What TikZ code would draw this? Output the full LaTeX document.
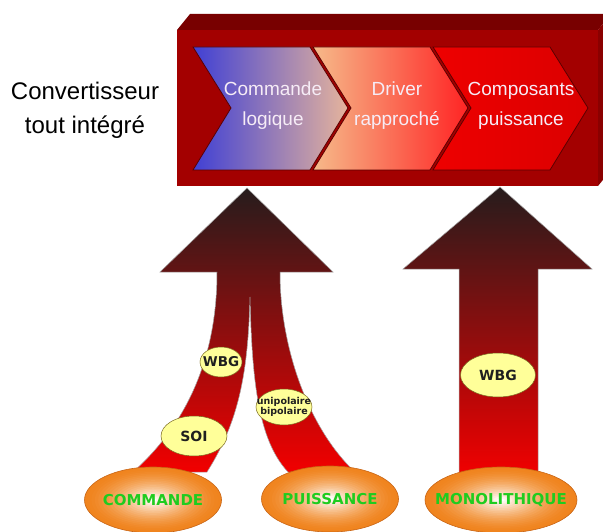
\documentclass[tikz,border=0pt]{standalone}
\usepackage{fontspec}
\setmainfont{Liberation Sans}
\newfontfamily\dvs{DejaVu Sans}
\usetikzlibrary{shapes.geometric}

\definecolor{boxfront}{HTML}{A30000}
\definecolor{boxtop}{HTML}{780000}
\definecolor{boxside}{HTML}{8A0000}
\definecolor{chevedge}{HTML}{5A0000}
\definecolor{chevblue}{HTML}{4040D4}
\definecolor{chevpeach}{HTML}{F6BA8A}
\definecolor{chevpeachB}{HTML}{E6B49C}
\definecolor{chevred}{HTML}{FF2424}
\definecolor{chevsolid}{HTML}{EE0000}
\definecolor{chevtext}{HTML}{F6ECF6}
\definecolor{arrowtop}{HTML}{261C1C}
\definecolor{arrowmid}{HTML}{701414}
\definecolor{arrowbot}{HTML}{F20000}
\definecolor{orangeedge}{HTML}{F0841E}
\definecolor{orangeline}{HTML}{C86414}
\definecolor{labelgreen}{HTML}{1FCC1F}
\definecolor{tagfill}{HTML}{FFFF99}
\definecolor{tagline}{HTML}{7A6A20}

% radial glow built from nested ellipses: centre, x radius, y radius
\newcommand\glowfill[3]{%
  \foreach \k [evaluate=\k as \p using {100*(\k/19)^1.6},
               evaluate=\k as \f using {1-\k/20}] in {0,...,19}
    \fill[white!\p!orangeedge] #1 ellipse [x radius={#2*\f}, y radius={#3*\f}];}

\tikzset{
  chevron/.style={draw=chevedge, line width=0.8pt, line join=miter},
  chevlabel/.style={text=chevtext, align=center, inner sep=0pt,
    font=\fontsize{19}{30}\selectfont},
  bigarrow/.style={draw=black!35, line width=0.5pt,
    top color=arrowtop, middle color=arrowmid, bottom color=arrowbot},
  source/.style={ellipse, draw=orangeline, line width=0.6pt, inner sep=0pt},
  sourcelabel/.style={inner sep=0pt, text=labelgreen,
    font=\dvs\bfseries\fontsize{15}{15}\selectfont},
  tag/.style={ellipse, draw=tagline, line width=0.5pt, fill=tagfill, inner sep=0pt},
  taglabel/.style={inner sep=0pt, text=black!88, align=center},
}

\begin{document}
\begin{tikzpicture}[x=1pt,y=-1pt]
\useasboundingbox (0,0) rectangle (603,532);
\clip (0,0) rectangle (603,532);

% integrated converter block (3D slab)
\fill[boxtop] (177,30) -- (190,14) -- (611,14) -- (598,30) -- cycle;
\fill[boxside] (598,30) -- (611,14) -- (611,170) -- (598,186) -- cycle;
\fill[boxfront] (177,30) rectangle (598,186);

% process chevrons
\shade[chevron, left color=chevblue, right color=chevpeachB]
  (193,47) -- (310,47) -- (348,108) -- (310,170) -- (193,170) -- (231,108) -- cycle;
\shade[chevron, left color=chevpeach, right color=chevred]
  (313,47) -- (430,47) -- (468,108) -- (430,170) -- (313,170) -- (351,108) -- cycle;
\shade[chevron, left color=chevsolid, right color=chevsolid!92!black]
  (433,47) -- (550,47) -- (588,108) -- (550,170) -- (433,170) -- (471,108) -- cycle;

\node[chevlabel] (logic)  at (273,106) {Commande\\logique};
\node[chevlabel] (driver) at (397,106) {Driver\\rapproché};
\node[chevlabel] (power)  at (521,106) {Composants\\puissance};

\node[align=center, inner sep=0pt, font=\fontsize{24}{34}\selectfont]
  (title) at (85,110) {Convertisseur\\tout intégré};

% merging arrow: control and power branches
\shade[bigarrow]
  (247,188) -- (333,272) -- (280,272)
  .. controls (280,350) and (310,430) .. (355,472)
  -- (288,472)
  .. controls (258,440) and (252,380) .. (250,297)
  .. controls (248,370) and (240,420) .. (207,472)
  -- (133,472)
  .. controls (198,414) and (217,340) .. (217,272)
  -- (160,272) -- cycle;

% straight arrow: monolithic integration
\shade[bigarrow]
  (500,187) -- (592,269) -- (538,269) -- (538,476) -- (459,476)
  -- (459,269) -- (403,269) -- cycle;

% technology tags
\node[tag, minimum width=42, minimum height=30] (wbgA) at (221,362) {};
\node[taglabel, font=\dvs\bfseries\fontsize{13.5}{13.5}\selectfont] at (wbgA) {WBG};
\node[tag, minimum width=66, minimum height=40] (soi) at (194,436) {};
\node[taglabel, font=\dvs\bfseries\fontsize{14}{14}\selectfont] at (soi) {SOI};
\node[tag, minimum width=56, minimum height=36] (uni) at (284,407) {};
\node[taglabel, font=\dvs\bfseries\fontsize{9.5}{10.5}\selectfont] at (uni) {unipolaire\\bipolaire};
\node[tag, minimum width=75, minimum height=44] (wbgB) at (498,375) {};
\node[taglabel, font=\dvs\bfseries\fontsize{14}{14}\selectfont] at (wbgB) {WBG};

% sources
\glowfill{(153,500)}{68.5}{33}
\glowfill{(330,499)}{68.5}{33}
\glowfill{(501,500)}{76}{33}
\node[source, minimum width=137, minimum height=66] (cmd)  at (153,500) {};
\node[source, minimum width=137, minimum height=66] (pwr)  at (330,499) {};
\node[source, minimum width=152, minimum height=66] (mono) at (501,500) {};
\node[sourcelabel] at (cmd)  {COMMANDE};
\node[sourcelabel] at (pwr)  {PUISSANCE};
\node[sourcelabel] at (mono) {MONOLITHIQUE};
\end{tikzpicture}
\end{document}
